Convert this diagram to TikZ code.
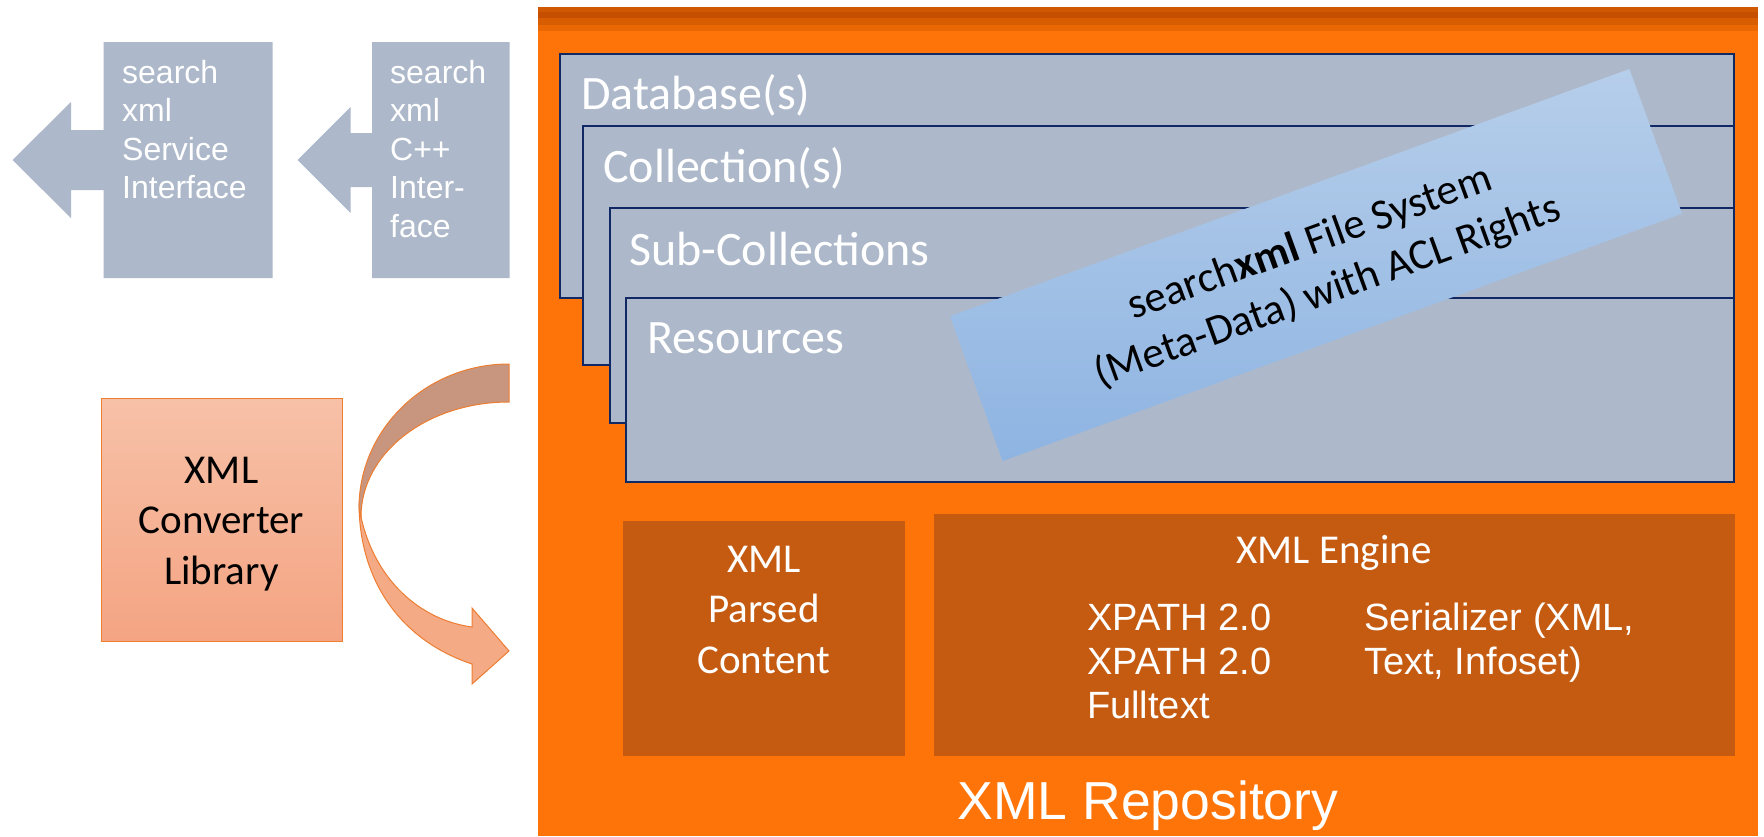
\documentclass[tikz,border=0pt]{standalone}
\usepackage{fontspec}
\setmainfont{Carlito}
\newfontfamily\arialfont{Liberation Sans}
\definecolor{repo}{RGB}{255,116,8}
\definecolor{stripeA}{RGB}{208,88,0}
\definecolor{stripeB}{RGB}{198,78,0}
\definecolor{stripeC}{RGB}{216,92,0}
\definecolor{stripeD}{RGB}{234,104,4}
\definecolor{engine}{RGB}{197,90,17}
\definecolor{slate}{RGB}{173,185,202}
\definecolor{navy}{RGB}{16,40,100}
\definecolor{convtop}{RGB}{247,193,168}
\definecolor{convbot}{RGB}{244,164,130}
\definecolor{convline}{RGB}{237,125,49}
\definecolor{arrdark}{RGB}{200,150,126}
\definecolor{arrlight}{RGB}{245,170,134}
\definecolor{bantop}{RGB}{182,206,234}
\definecolor{banbot}{RGB}{142,180,226}
\begin{document}
\begin{tikzpicture}[x=1pt,y=-1pt,
  layerbox/.style={draw=navy, line width=2.5pt, fill=slate},
  layerlabel/.style={anchor=base west, inner sep=0pt, text=white, font=\fontsize{48}{57}\selectfont},
  ifaceshape/.style={fill=slate, draw=none},
  ifacetext/.style={anchor=base west, inner sep=0pt, align=left, text=white, font=\arialfont\fontsize{32}{38.5}\selectfont},
  enginebox/.style={fill=engine, draw=none, inner sep=0pt, outer sep=0pt, anchor=north west},
  calibritext/.style={inner sep=0pt, align=center, font=\fontsize{41}{50.5}\selectfont},
  ariallist/.style={anchor=base west, inner sep=0pt, align=left, text=white, font=\arialfont\fontsize{38}{44}\selectfont},
  arrowpart/.style={draw=convline, line width=1pt}
]
\useasboundingbox (0,0) rectangle (1764,836);
\fill[white] (0,0) rectangle (1764,836);

% repository container
\fill[repo] (538,7) rectangle (1758,836);
\fill[stripeA] (538,7) rectangle (1758,12);
\fill[stripeB] (538,12) rectangle (1758,18);
\fill[stripeC] (538,18) rectangle (1758,25);
\fill[stripeD] (538,25) rectangle (1758,31);
\node[anchor=base, inner sep=0pt, text=white, font=\arialfont\fontsize{53.5}{60}\selectfont] (repolabel) at (1148,819) {XML Repository};

% layered boxes
\draw[layerbox] (560,54) rectangle (1734,298);
\node[layerlabel] (dblabel) at (581,109) {Database(s)};
\draw[layerbox] (583,126) rectangle (1734,365);
\node[layerlabel] (colllabel) at (603,182) {Collection(s)};
\draw[layerbox] (610,208) rectangle (1734,423);
\node[layerlabel] (sublabel) at (629,265) {Sub-Collections};
\draw[layerbox] (626,298) rectangle (1734,482);
\node[layerlabel] (reslabel) at (647,353) {Resources};

% file system banner
\node[rotate=20, minimum width=723pt, minimum height=154pt, inner sep=0pt, top color=bantop, bottom color=banbot, draw=none] (banner) at (1316,265) {};
\node[rotate=20, inner sep=0pt, align=center, font=\fontsize{43}{52}\selectfont] (bannertext) at (1319,268) {search\textbf{xml} File System\\(Meta-Data) with ACL Rights};

% engine boxes
\node[enginebox, minimum width=281.5pt, minimum height=235pt] (parsed) at (623,521) {};
\node[calibritext, anchor=base, text=white] (parsedtext) at (764,673) {XML\\Parsed\\Content};
\node[enginebox, minimum width=800.5pt, minimum height=242pt] (engine) at (934,514) {};
\node[anchor=base, inner sep=0pt, text=white, font=\fontsize{41}{50}\selectfont] (enginetitle) at (1334,563) {XML Engine};
\node[ariallist] (xpath) at (1087,718) {XPATH 2.0\\XPATH 2.0\\Fulltext};
\node[ariallist] (serial) at (1364,674) {Serializer (XML,\\Text, Infoset)};

% interface arrows
\path[ifaceshape] (103.6,42) -- (272.5,42) -- (272.5,278) -- (103.6,278) -- (103.6,190) -- (71,190) -- (71,218) -- (12.5,160) -- (71,102) -- (71,130) -- (103.6,130) -- cycle;
\node[ifacetext] (svc) at (122,198.5) {search\\xml\\Service\\Interface};
\path[ifaceshape] (372,42) -- (509.6,42) -- (509.6,278) -- (372,278) -- (372,187) -- (350.7,187) -- (350.7,213) -- (297.5,160) -- (350.7,107) -- (350.7,133) -- (372,133) -- cycle;
\node[ifacetext] (cpp) at (390,237) {search\\xml\\C++\\Inter-\\face};

% converter library
\node[draw=convline, line width=1pt, top color=convtop, bottom color=convbot, minimum width=241pt, minimum height=243pt, inner sep=0pt] (conv) at (221.5,519.5) {};
\node[calibritext, anchor=base, text=black] (convtext) at (221.5,584) {XML\\Converter\\Library};

% curved arrow
\path[arrowpart, fill=arrlight] (359,503) .. controls (359,580) and (400,640) .. (472,664) -- (472,684) -- (509,651) -- (472,608) -- (472,627) .. controls (420,620) and (375,580) .. (361,517) -- cycle;
\path[arrowpart, fill=arrdark] (509,364) .. controls (426,364) and (359,429) .. (359,508) -- (361,517) .. controls (361,453) and (427,402) .. (509,402) -- cycle;
\end{tikzpicture}
\end{document}
